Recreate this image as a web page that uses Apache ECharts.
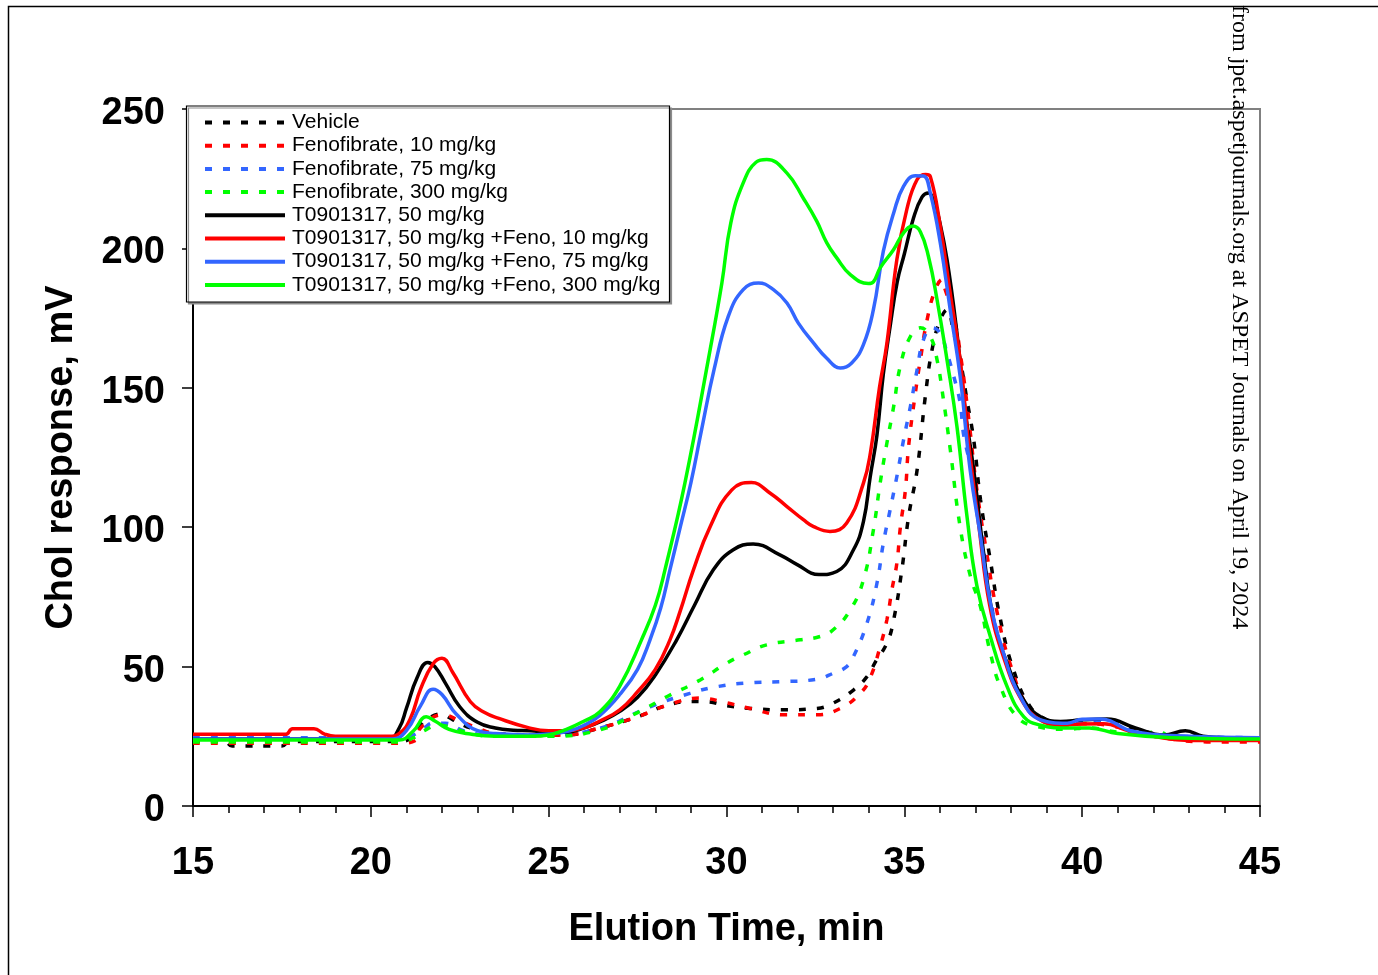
<!DOCTYPE html>
<html>
<head>
<meta charset="utf-8">
<script src="https://cdn.jsdelivr.net/npm/echarts@6/dist/echarts.min.js"></script>
<style>
  html, body { margin: 0; padding: 0; background: #fff; }
  #chart { width: 1378px; height: 975px; }
</style>
</head>
<body>
<div id="chart"></div>
<script>
// Series names (legend order)
const seriesNames = [
    'Vehicle',
    'Fenofibrate, 10 mg/kg',
    'Fenofibrate, 75 mg/kg',
    'Fenofibrate, 300 mg/kg',
    'T0901317, 50 mg/kg',
    'T0901317, 50 mg/kg +Feno, 10 mg/kg',
    'T0901317, 50 mg/kg +Feno, 75 mg/kg',
    'T0901317, 50 mg/kg +Feno, 300 mg/kg'
];
const seriesColors = ['#000000', '#ff0000', '#3366ff', '#00ff00', '#000000', '#ff0000', '#3366ff', '#00ff00'];

// x ticks (min)
const xTicks = [15, 20, 25, 30, 35, 40, 45];
const yTicks = [0, 50, 100, 150, 200, 250];

// [elution time (min), chol response (mV)]
const vehicle = [
    [15, 23.1], [15.9, 23.1], [16.1, 21.5], [17.5, 21.5], [17.7, 23.1], [20.8, 23.1], [21.2, 25], [21.4, 29],
    [21.56, 30.9], [21.94, 33], [22.3, 31], [22.8, 28], [23.5, 26], [24.5, 25.5], [25.5, 25.5], [26.44, 28],
    [27.5, 32], [28.3, 36], [29.0, 37.5], [29.5, 37.3], [30.0, 36], [30.66, 35], [31.6, 34.5], [32.54, 35],
    [33.0, 36.9], [33.57, 41.6], [33.95, 46.4], [34.2, 52], [34.51, 58.4], [34.7, 66.8], [34.93, 84.7],
    [35.12, 103.8], [35.36, 120.6], [35.59, 146.9], [35.78, 163.7], [36.01, 174.4], [36.2, 178], [36.39, 169.6],
    [36.57, 160], [36.76, 145.7], [36.95, 131.4], [37.14, 110], [37.42, 88], [37.7, 67], [38.07, 48.8],
    [38.54, 35.6], [39.01, 30.9], [39.5, 29.5], [40.0, 30.5], [40.7, 30], [41.5, 27.5], [42.5, 25], [43.5, 24.5], [45, 24]
];
const feno10 = [
    [15, 22.5], [20.8, 22.5], [21.28, 23.7], [21.4, 28], [22.03, 32.7], [22.5, 30.5], [23, 28], [23.5, 26],
    [24.5, 25.3], [25.5, 25.5], [26.44, 28], [27.5, 32], [28.3, 36], [29.26, 38.7], [30.0, 37], [30.66, 35],
    [31.6, 32.7], [32.54, 32.7], [33.2, 35], [33.76, 40.4], [34.04, 46], [34.32, 57.2], [34.51, 66.8],
    [34.65, 77.5], [34.79, 87.1], [34.89, 100.2], [35.03, 113.4], [35.12, 129], [35.31, 148.1], [35.45, 160],
    [35.64, 174.4], [35.87, 185.2], [36.06, 188.8], [36.15, 185.2], [36.39, 175.6], [36.6, 160], [36.8, 140],
    [37.04, 113.4], [37.3, 92], [37.6, 70], [38.0, 50], [38.5, 35], [39.0, 30.5], [39.5, 29], [40, 29.5],
    [40.7, 29], [41.5, 26.5], [42.5, 24], [43.5, 23], [45, 23]
];
const feno75 = [
    [15, 24.5], [20.8, 24.5], [21.2, 25.5], [21.5, 28], [21.75, 29.7], [22.1, 29.7], [22.6, 27], [23.3, 25.5],
    [25, 25.5], [26.44, 27.9], [27.85, 35.6], [28.97, 40.4], [29.73, 42.8], [30.66, 44.2], [31.6, 44.6],
    [32.54, 45.5], [33.0, 47.6], [33.38, 50], [33.57, 53.6], [33.95, 65.6], [34.23, 79.9], [34.41, 94.3],
    [34.6, 106.2], [34.79, 118.2], [34.98, 131.4], [35.17, 143.3], [35.36, 156.5], [35.54, 167.3],
    [35.78, 171.5], [36.01, 169.6], [36.2, 162.5], [36.39, 154.1], [36.57, 144.5], [36.67, 133], [36.95, 117],
    [37.2, 95], [37.45, 72], [37.8, 54], [38.3, 38.5], [38.8, 31], [39.5, 29.5], [40, 30.5], [40.6, 30.5],
    [41.5, 26.5], [42.8, 25], [45, 24.5]
];
const feno300 = [
    [15, 23], [20.8, 23], [21.2, 24.5], [21.5, 27], [21.9, 29], [22.3, 28], [22.8, 26], [23.5, 25], [25, 25],
    [26.44, 27.3], [27.5, 33.5], [28.32, 39.2], [29.26, 45.2], [30.0, 51.2], [30.47, 54.2], [31.13, 57.8],
    [32.07, 59.6], [32.63, 60.8], [33.0, 63.2], [33.48, 70.3], [33.85, 81.1], [34.13, 99], [34.32, 115.8],
    [34.51, 130.2], [34.7, 143.3], [34.89, 158], [35.17, 168.4], [35.45, 171.5], [35.73, 168.4], [35.92, 160],
    [36.1, 145.7], [36.29, 128], [36.57, 100], [36.86, 82.3], [37.14, 71.5], [37.42, 54.8], [37.7, 42.8],
    [38.17, 32], [38.73, 28.5], [39.5, 27.5], [40.2, 28], [41, 26.5], [41.8, 26], [42.1, 27], [42.5, 25],
    [43.5, 24.5], [45, 24]
];
const t09 = [
    [15, 24], [20.5, 24], [20.8, 28], [21.0, 35], [21.3, 46], [21.6, 51.5], [21.8, 50], [22.1, 44], [22.5, 35.6],
    [23.0, 30], [23.5, 28], [24.0, 27.2], [24.5, 27], [25, 26.5], [25.5, 26.5], [26.0, 28], [26.5, 30.5],
    [27.0, 34], [27.5, 39], [28.0, 47], [28.6, 59.6], [29.1, 72], [29.63, 84.7], [30.19, 91.9], [30.75, 94],
    [31.5, 90.1], [32.0, 86.5], [32.6, 83], [33.1, 84.1], [33.57, 91.9], [33.85, 102],
    [34.04, 118], [34.23, 133], [34.41, 155], [34.6, 172], [34.8, 188], [35.0, 198], [35.26, 211],
    [35.5, 218.5], [35.68, 219.9], [35.85, 216], [35.96, 211.5], [36.2, 196], [36.48, 169.6], [36.71, 142],
    [36.95, 120.6], [37.23, 90.7], [37.51, 66.8], [37.89, 51.2], [38.36, 38], [38.83, 32], [39.39, 30.3],
    [40.0, 30.9], [40.7, 31.2], [41.5, 28], [42.3, 25.5], [42.9, 27], [43.4, 25], [44, 24.5], [45, 24.5]
];
const t09Feno10 = [
    [15, 25.7], [17.6, 25.7], [17.8, 27.7], [18.4, 27.7], [18.7, 25.8], [19.0, 25], [20.5, 25], [20.8, 26],
    [21.1, 31], [21.4, 42], [21.75, 51], [22.0, 53], [22.3, 48], [22.8, 37.4], [23.2, 33.5], [23.6, 31.4],
    [24.4, 28.2], [25, 27], [25.5, 27], [26, 28], [26.44, 30.5], [27.0, 34.5], [27.5, 41], [28.0, 49],
    [28.41, 59.6], [28.7, 70], [29.07, 84.7], [29.54, 100.2], [30.15, 113.4], [30.7, 116],
    [31.23, 112.2], [31.7, 107.4], [32.16, 102.7], [32.45, 100.2], [32.91, 98.5], [33.38, 101.5],
    [33.85, 115.8], [34.05, 127], [34.3, 150], [34.51, 166], [34.79, 196], [35.07, 214], [35.36, 224.7],
    [35.6, 226.5], [35.73, 225.8], [36.01, 208], [36.29, 184], [36.57, 160], [36.81, 130], [37.1, 100],
    [37.4, 72], [37.8, 53], [38.3, 38], [38.8, 31], [39.4, 29], [40, 29.4], [40.6, 29.5], [41.3, 27],
    [42, 25], [43, 23.5], [45, 23.5]
];
const t09Feno75 = [
    [15, 24], [20.6, 24], [21.0, 27], [21.4, 36], [21.75, 41.9], [22.0, 40], [22.4, 33], [23.0, 27], [23.5, 26],
    [24.5, 25.5], [25, 25.8], [25.6, 27], [26.0, 29], [26.44, 32.5], [27.0, 40], [27.5, 49], [27.85, 59.6],
    [28.15, 71], [28.41, 84.7], [28.7, 100], [29.0, 116], [29.3, 135], [29.65, 156.5], [30.05, 175.6],
    [30.47, 185.2], [30.9, 187.6], [31.32, 185.2], [31.7, 180.4], [32.02, 173.2], [32.45, 166],
    [32.82, 160.6], [33.2, 157.1], [33.52, 158.9], [33.85, 165.5], [34.13, 178], [34.41, 199], [34.7, 212.7],
    [34.98, 222.3], [35.31, 226.1], [35.54, 226], [35.73, 219.9], [36.01, 202], [36.29, 178], [36.57, 154],
    [36.85, 120.6], [37.14, 96.7], [37.42, 72.8], [37.79, 54.8], [38.26, 39.2], [38.83, 30.9], [39.58, 29.7],
    [40, 31.1], [40.5, 31.2], [41.45, 26.7], [42.86, 25.1], [45, 24.5]
];
const t09Feno300 = [
    [15, 23.7], [20.8, 23.7], [21.2, 27], [21.56, 32], [21.8, 30.5], [22.2, 27.5], [22.8, 25.8], [23.5, 25],
    [24.5, 25], [25.0, 25.5], [25.5, 27.5], [26.0, 30.5], [26.44, 33.8], [27.0, 43], [27.61, 59.6], [28.0, 72],
    [28.27, 84.7], [28.83, 115.8], [29.54, 163.7], [29.87, 187.6], [30.12, 209.1], [30.47, 223.5],
    [30.83, 230.9], [31.13, 231.9], [31.7, 227], [32.16, 218], [32.54, 209.7], [32.82, 202], [33.1, 196.6],
    [33.48, 190.6], [33.99, 187.4], [34.13, 188], [34.32, 193], [34.7, 199.6], [34.98, 205.6], [35.24, 208],
    [35.45, 206], [35.68, 197], [35.92, 181.6], [36.2, 160], [36.48, 136], [36.76, 104], [37.04, 79],
    [37.42, 60.7], [37.89, 42.8], [38.36, 32], [38.83, 29], [39.5, 28], [40.2, 28], [41, 26], [42.5, 24.5], [45, 24]
];

const seriesData = [vehicle, feno10, feno75, feno300, t09, t09Feno10, t09Feno75, t09Feno300];

const myChart = echarts.init(document.getElementById('chart'));

const tickFont = {
    fontFamily: 'Liberation Sans',
    fontWeight: 'bold',
    fontSize: 38,
    color: '#000'
};

option = {
    animation: false,
    backgroundColor: '#fff',
    grid: {
        left: 193,
        right: 118,
        top: 109,
        bottom: 169,
        show: true,
        borderColor: '#808080',
        borderWidth: 2
    },
    legend: {
        orient: 'vertical',
        left: 203,
        top: 112,
        padding: 0,
        itemWidth: 80,
        itemHeight: 14,
        itemGap: 2.2,
        data: seriesNames,
        // hide the point marker, keep only the line sample
        itemStyle: { opacity: 0 },
        lineStyle: { width: 4 },
        textStyle: {
            fontFamily: 'Liberation Sans',
            fontSize: 21,
            lineHeight: 21,
            color: '#000',
            padding: [0, 0, 0, 2]
        },
        z: 5
    },
    xAxis: {
        type: 'value',
        min: 15,
        max: 45,
        interval: 5,
        name: 'Elution Time, min',
        nameLocation: 'middle',
        nameGap: 105,
        nameTextStyle: {
            fontFamily: 'Liberation Sans',
            fontWeight: 'bold',
            fontSize: 38,
            color: '#000'
        },
        axisLine: { lineStyle: { color: '#000', width: 2 } },
        axisTick: { show: true, inside: false, length: 11, lineStyle: { color: '#000', width: 1.5 } },
        minorTick: { show: true, splitNumber: 5, length: 7, lineStyle: { color: '#000', width: 1.5 } },
        splitLine: { show: false },
        axisLabel: Object.assign({
            margin: 39,
            formatter: function (v) { return xTicks.indexOf(v) >= 0 ? String(v) : ''; }
        }, tickFont)
    },
    yAxis: {
        type: 'value',
        min: 0,
        max: 250,
        interval: 50,
        name: 'Chol response, mV',
        nameLocation: 'middle',
        nameGap: 112,
        nameTextStyle: {
            fontFamily: 'Liberation Sans',
            fontWeight: 'bold',
            fontSize: 38,
            color: '#000'
        },
        axisLine: { show: true, lineStyle: { color: '#000', width: 2 } },
        axisTick: { show: true, inside: false, length: 11, lineStyle: { color: '#000', width: 1.5 } },
        splitLine: { show: false },
        axisLabel: Object.assign({
            margin: 28,
            formatter: function (v) { return yTicks.indexOf(v) >= 0 ? '{v|' + v + '}' : ''; },
            rich: {
                v: {
                    fontFamily: 'Liberation Sans',
                    fontWeight: 'bold',
                    fontSize: 38,
                    color: '#000',
                    padding: [9, 0, 0, 0]
                }
            }
        }, tickFont)
    },
    graphic: [
        // outer frame of the figure
        {
            type: 'rect',
            z: 1,
            shape: { x: 8.5, y: 6.5, width: 1420, height: 1020 },
            style: { fill: 'none', stroke: '#000', lineWidth: 1.5 }
        },
        // legend box
        {
            type: 'rect',
            z: 4,
            shape: { x: 186.5, y: 106, width: 483, height: 196 },
            style: {
                fill: '#fff', stroke: '#000', lineWidth: 1.2,
                shadowColor: '#8c8c8c', shadowOffsetX: 2, shadowOffsetY: 2, shadowBlur: 0
            }
        },
        // journal watermark
        {
            type: 'text',
            z: 6,
            x: 1239,
            y: 5,
            rotation: -Math.PI / 2,
            style: {
                text: 'from jpet.aspetjournals.org at ASPET Journals on April 19, 2024',
                font: '24px "Liberation Serif"',
                fill: '#000',
                textAlign: 'left',
                textVerticalAlign: 'middle'
            }
        }
    ],
    series: seriesNames.map(function (name, i) {
        return {
            name: name,
            type: 'line',
            data: seriesData[i],
            showSymbol: false,
            symbol: 'none',
            smooth: 0.45,
            clip: true,
            z: i < 4 ? 2 : 3,
            itemStyle: { color: seriesColors[i] },
            lineStyle: {
                color: seriesColors[i],
                width: 3.5,
                type: i < 4 ? [7, 11] : 'solid'
            }
        };
    })
};

myChart.setOption(option);
</script>
</body>
</html>
